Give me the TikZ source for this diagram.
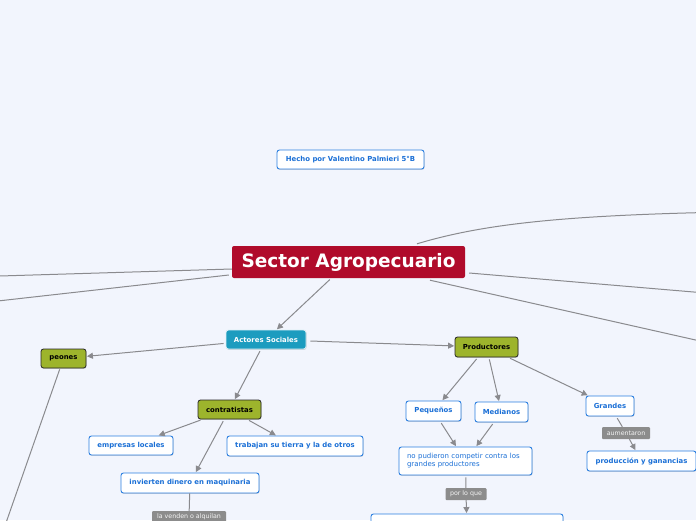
\documentclass[tikz,border=0pt]{standalone}
\usepackage{fontspec}
\setmainfont{DejaVu Sans}
\usetikzlibrary{arrows.meta,shadows}
\definecolor{bgcol}{HTML}{F2F5FD}
\definecolor{sectorred}{HTML}{B00B2B}
\definecolor{teal}{HTML}{1C9CBF}
\definecolor{olive}{HTML}{9DB42C}
\definecolor{nodeblue}{HTML}{2B7FE0}
\definecolor{textblue}{HTML}{1A6FD6}
\definecolor{linegray}{HTML}{8A8A8E}
\definecolor{labelgray}{HTML}{8C8C8C}
\begin{document}
\begin{tikzpicture}[x=1pt,y=-1pt,
  box/.style={rounded corners=2.5pt, inner sep=0pt, font=\fontsize{6.9}{8}\selectfont\bfseries, align=center},
  bluebox/.style={box, draw=nodeblue, line width=0.9pt, fill=white, text=textblue,
     drop shadow={shadow xshift=0.5pt, shadow yshift=-0.9pt, opacity=0.3, fill=gray}},
  olivebox/.style={box, draw=black!85, line width=0.8pt, fill=olive, text=black,
     drop shadow={shadow xshift=0.5pt, shadow yshift=-0.9pt, opacity=0.3, fill=gray}},
  tealbox/.style={box, draw=white!85!teal, line width=0.8pt, fill=teal, text=white,
     drop shadow={shadow xshift=0.5pt, shadow yshift=-0.9pt, opacity=0.3, fill=gray}},
  lbl/.style={rounded corners=1pt, inner sep=0pt, fill=labelgray, text=white!92!gray,
     font=\fontsize{6.3}{7}\selectfont, minimum height=12pt},
  conn/.style={draw=linegray, line width=1pt, shorten <=2pt},
  arr/.style={conn, -{Triangle[width=6pt,length=6pt]}, shorten >=0.5pt},
]
\useasboundingbox (0,0) rectangle (696,520);
\fill[bgcol] (0,0) rectangle (696,520);
\clip (0,0) rectangle (696,520);

% nodes
\node[bluebox, minimum width=147pt, minimum height=19pt] (hecho) at (350.5,159.5) {Hecho por Valentino Palmieri 5°B};
\node[rounded corners=2pt, inner sep=0pt, fill=sectorred, text=white, font=\fontsize{18.5}{20}\selectfont\bfseries,
      minimum width=233pt, minimum height=32pt] (sector) at (348.5,262) {Sector Agropecuario};
\node[tealbox, minimum width=80pt, minimum height=19pt] (actores) at (266,339.5) {Actores Sociales};
\node[olivebox, minimum width=45pt, minimum height=19pt] (peones) at (63.5,358.5) {peones};
\node[olivebox, minimum width=63pt, minimum height=19pt] (contr) at (229.5,409.5) {contratistas};
\node[olivebox, minimum width=63pt, minimum height=20pt] (prod) at (486.5,347) {Productores};
\node[bluebox, minimum width=84pt, minimum height=19pt] (empresas) at (131,445.5) {empresas locales};
\node[bluebox, minimum width=136pt, minimum height=20pt] (trabajan) at (295,446) {trabajan su tierra y la de otros};
\node[bluebox, minimum width=138pt, minimum height=20pt] (invierten) at (190,483) {invierten dinero en maquinaria};
\node[lbl, minimum width=74pt] (venden) at (189,517) {la venden o alquilan};
\node[bluebox, minimum width=55pt, minimum height=20pt] (peq) at (433.5,411) {Pequeños};
\node[bluebox, minimum width=53pt, minimum height=20pt] (med) at (501.5,412) {Medianos};
\node[bluebox, minimum width=48pt, minimum height=20pt] (grandes) at (610,406) {Grandes};
\node[lbl, minimum width=48pt] (aum) at (626,433) {aumentaron};
\node[bluebox, minimum width=109pt, minimum height=20pt] (ganancias) at (641.5,461) {producción y ganancias};
\node[bluebox, font=\fontsize{7}{8}\selectfont, align=left, text width=117pt, inner xsep=8pt,
      minimum height=28pt] (nopud) at (465.5,461) {no pudieron competir contra los\\grandes productores};
\node[lbl, minimum width=41pt] (porloque) at (466,494) {por lo que};
\node[bluebox, minimum width=192pt, minimum height=28pt] (bottom) at (467,528) {};

% off-screen targets
\coordinate (offL1) at (-100,279);
\coordinate (offL2) at (-100,312);
\coordinate (offR1) at (800,301);
\coordinate (offR2) at (800,363.5);
\coordinate (offR3) at (800,211);
\coordinate (offP) at (0,540);

% connectors from Sector Agropecuario
\draw[conn, shorten <=0pt] ([yshift=-7pt]sector.west) -- (offL1);
\draw[conn, shorten <=0pt] ([shift={(-3pt,-13pt)}]sector.west) -- (offL2);
\draw[conn, shorten <=0pt] ([shift={(4pt,-11pt)}]sector.east) -- (offR1);
\draw[conn, shorten <=0pt] ([shift={(81.5pt,-2pt)}]sector.south) -- (offR2);
\draw[conn, shorten <=0pt] ([shift={(68.5pt,2pt)}]sector.north) .. controls (490,222) and (580,213) .. (offR3);
\draw[arr] (sector) -- (actores);

% Actores Sociales
\draw[arr] (actores) -- (peones);
\draw[arr] (actores) -- (contr);
\draw[arr, shorten <=4pt] (actores) -- (prod);
\draw[conn, shorten <=1pt] ([xshift=-3.5pt]peones.south) -- (offP);

% contratistas
\draw[arr] (contr) -- (empresas);
\draw[arr] (contr) -- (trabajan);
\draw[arr] (contr) -- (invierten);
\draw[conn, shorten <=0pt] (invierten) -- (venden);

% Productores
\draw[arr] (prod) -- (peq);
\draw[arr] (prod) -- (med);
\draw[arr] (prod) -- (grandes);
\draw[arr] (peq) -- (nopud);
\draw[arr] (med) -- (nopud);
\draw[conn] (grandes) -- (aum);
\draw[arr, shorten <=0pt] (aum) -- (ganancias);
\draw[conn] (nopud) -- (porloque);
\draw[arr, shorten <=0pt] (porloque) -- (bottom);
\end{tikzpicture}
\end{document}
